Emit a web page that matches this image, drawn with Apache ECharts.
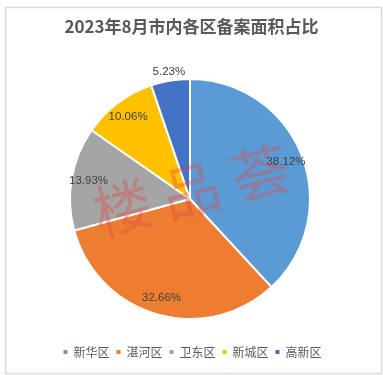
<!DOCTYPE html>
<html><head><meta charset="utf-8">
<script src="https://cdn.jsdelivr.net/npm/echarts@6/dist/echarts.min.js"></script>
<style>html,body{margin:0;padding:0;background:#fff}#c{width:383px;height:375px}</style>
</head><body><div id="c"></div>
<script>
const titleText = '2023年8月市内各区备案面积占比';
const categories = ['新华区', '湛河区', '卫东区', '新城区', '高新区'];
const values = [38.12, 32.66, 13.93, 10.06, 5.23];
const colors = ['#5B9BD5', '#ED7D31', '#A5A5A5', '#FFC000', '#4472C4'];
const watermark = '楼 品 荟';

const chart = echarts.init(document.getElementById('c'));
const center = [190, 199];
const labelStyle = { color: '#404040', fontSize: 11.5, fontFamily: 'Liberation Sans, Arial, sans-serif' };
const fmt = p => p.value.toFixed(2) + '%';

const mainData = categories.map((n, i) => ({ name: n, value: values[i], itemStyle: { color: colors[i] } }));
const overlayData = categories.map((n, i) => ({ name: n, value: values[i], label: { show: i < 4 } }));
const outerData = categories.map((n, i) => ({ name: n, value: values[i], label: { show: i === 4 } }));

chart.setOption({
  animation: false,
  title: {
    text: titleText, left: 'center', top: 13,
    textStyle: { fontSize: 17, fontWeight: 'bold', color: '#595959', fontFamily: 'Noto Sans CJK SC' }
  },
  legend: {
    data: categories, bottom: 12, left: 'center',
    itemWidth: 6, itemHeight: 6, itemGap: 5, icon: 'rect',
    textStyle: { fontSize: 12, color: '#595959', fontFamily: 'Noto Sans CJK SC' }
  },
  graphic: [
    { type: 'rect', left: 3, top: 5, shape: { width: 376, height: 366 }, style: { fill: 'none', stroke: '#d9d9d9', lineWidth: 1.5 }, z: -1 },
    { type: 'text', x: 191, y: 190, rotation: 0.25, z: 100, silent: true,
      style: { text: watermark, fontSize: 58, fontFamily: 'Noto Sans CJK SC', fill: 'rgba(225,70,70,0.36)', align: 'center', verticalAlign: 'middle' } }
  ],
  series: [
    {
      type: 'pie', center: center, radius: [0, 120], startAngle: 90, clockwise: true,
      itemStyle: { borderColor: '#fff', borderWidth: 2 },
      label: { show: false }, labelLine: { show: false }, data: mainData, silent: true
    },
    {
      type: 'pie', center: center, radius: [86, 114], startAngle: 90, clockwise: true,
      itemStyle: { color: 'transparent', borderWidth: 0 }, silent: true,
      label: Object.assign({ position: 'inside', formatter: fmt }, labelStyle),
      labelLine: { show: false }, data: overlayData, z: 5
    },
    {
      type: 'pie', center: center, radius: [119, 133], startAngle: 90, clockwise: true,
      itemStyle: { color: 'transparent', borderWidth: 0 }, silent: true,
      label: Object.assign({ position: 'inside', formatter: fmt }, labelStyle),
      labelLine: { show: false }, data: outerData, z: 5
    }
  ]
});
</script></body></html>
